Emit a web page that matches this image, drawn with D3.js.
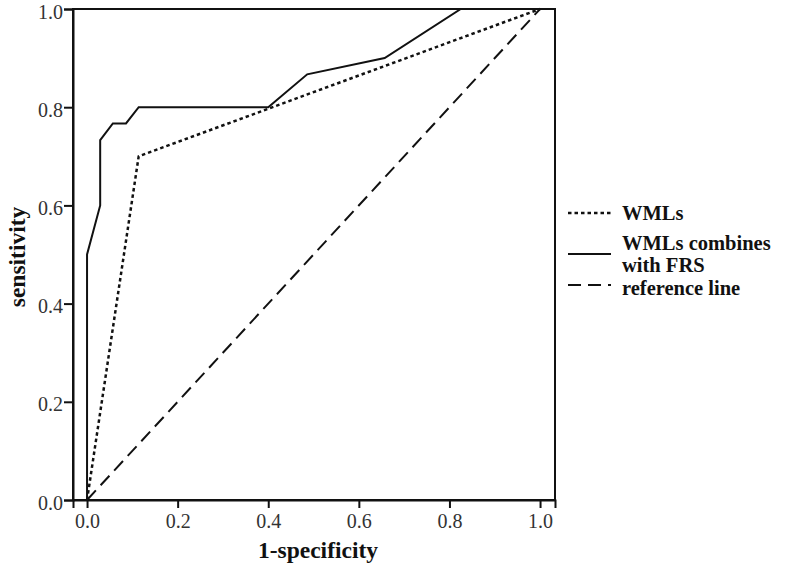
<!DOCTYPE html>
<html><head><meta charset="utf-8">
<script src="https://cdn.jsdelivr.net/npm/d3@7"></script>
<style>body{margin:0;background:#fff}svg{display:block}</style>
</head><body>
<svg id="c" width="800" height="567"></svg>
<script>
const xTicks = [0.0, 0.2, 0.4, 0.6, 0.8, 1.0];
const yTicks = [0.0, 0.2, 0.4, 0.6, 0.8, 1.0];
const wmlFpr = [0, 0.114, 1];
const wmlTpr = [0, 0.7, 1];
const combFpr = [0, 0, 0.029, 0.029, 0.057, 0.086, 0.114, 0.4, 0.486, 0.657, 0.825, 1];
const combTpr = [0, 0.5, 0.6, 0.733, 0.767, 0.767, 0.8, 0.8, 0.867, 0.9, 1.0, 1.0];
const refFpr = [0, 1];
const refTpr = [0, 1];
const legendLabels = [["WMLs"], ["WMLs combines", "with FRS"], ["reference line"]];

const svg = d3.select("#c");
const L = 73, R = 555, T = 9, B = 500;
const x = d3.scaleLinear().domain([-0.031, 1.033]).range([L, R]);
const y = d3.scaleLinear().domain([0, 1]).range([B, T]);
const font = "'Liberation Serif', 'Times New Roman', serif";

// frame
svg.append("rect").attr("x", L).attr("y", T).attr("width", R - L).attr("height", B - T)
  .attr("fill", "none").attr("stroke", "#111").attr("stroke-width", 2);

const xa = svg.append("g").attr("transform", `translate(0,${B})`)
  .call(d3.axisBottom(x).tickValues(xTicks).tickFormat(d3.format(".1f")).tickSize(8).tickPadding(6));
const ya = svg.append("g").attr("transform", `translate(${L},0)`)
  .call(d3.axisLeft(y).tickValues(yTicks).tickFormat(d3.format(".1f")).tickSize(9).tickPadding(1));
[xa, ya].forEach(a => {
  a.attr("font-size", null).attr("font-family", null);
  a.select(".domain").attr("stroke", "#111").attr("stroke-width", 2);
  a.selectAll(".tick line").attr("stroke", "#111").attr("stroke-width", 2);
  a.selectAll(".tick text").attr("fill", "#333").attr("font-family", font).attr("font-size", 20);
});
ya.selectAll(".tick text").attr("dy", "0.45em");

const line = d3.line().x(d => x(d[0])).y(d => y(d[1]));
const ref = refFpr.map((v, i) => [v, refTpr[i]]);
const wml = wmlFpr.map((v, i) => [v, wmlTpr[i]]);
const comb = combFpr.map((v, i) => [v, combTpr[i]]);

svg.append("path").datum(ref).attr("d", line).attr("fill", "none")
  .attr("stroke", "#111").attr("stroke-width", 2).attr("stroke-dasharray", "13,7");
svg.append("path").datum(wml).attr("d", line).attr("fill", "none")
  .attr("stroke", "#111").attr("stroke-width", 2.5).attr("stroke-dasharray", "3.5,3");
svg.append("path").datum(comb).attr("d", line).attr("fill", "none")
  .attr("stroke", "#111").attr("stroke-width", 2).attr("stroke-linejoin", "miter");

// axis titles
svg.append("text").attr("x", 318).attr("y", 558).attr("text-anchor", "middle")
  .style("font-family", font).style("font-weight", "bold").style("font-size", "23.5px").attr("fill", "#111")
  .text("1-specificity");
svg.append("text").attr("transform", "translate(25,257) rotate(-90)").attr("text-anchor", "middle")
  .style("font-family", font).style("font-weight", "bold").style("font-size", "23.5px").attr("fill", "#111")
  .text("sensitivity");

// legend
const lg = svg.append("g");
const styles = [{dash: "3.5,3", w: 2.5}, {dash: null, w: 2}, {dash: "13,7", w: 2}];
const lineY = [213, 254, 285];
const textY = [[220], [250, 272], [295]];
legendLabels.forEach((lab, i) => {
  const ln = lg.append("line").attr("x1", 568).attr("x2", 611).attr("y1", lineY[i]).attr("y2", lineY[i])
    .attr("stroke", "#111").attr("stroke-width", styles[i].w);
  if (styles[i].dash) ln.attr("stroke-dasharray", styles[i].dash);
  lab.forEach((t, j) => {
    lg.append("text").attr("x", 622).attr("y", textY[i][j])
      .style("font-family", font).style("font-weight", "bold").style("font-size", "20.5px").attr("fill", "#111")
      .text(t);
  });
});
</script>
</body></html>
